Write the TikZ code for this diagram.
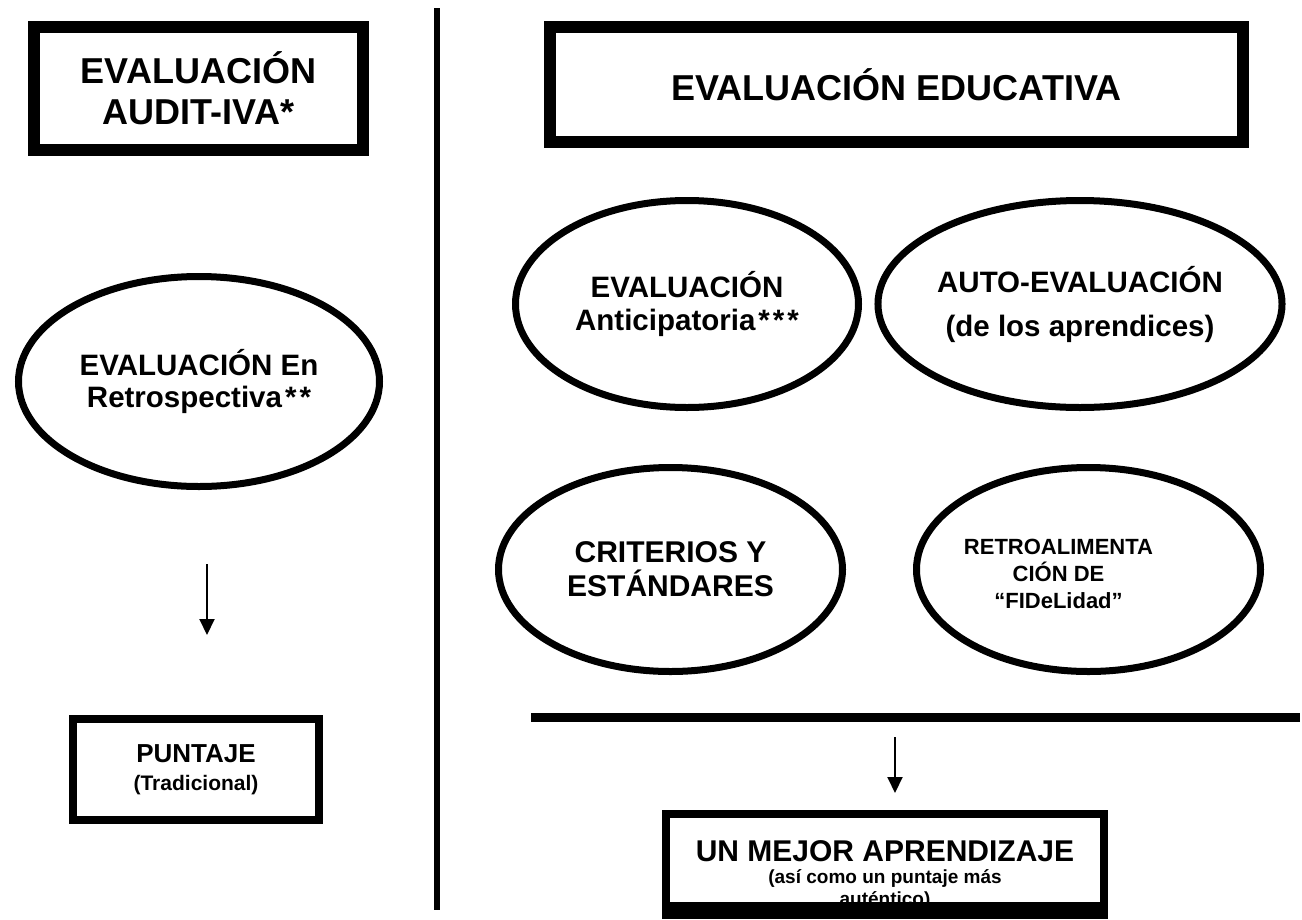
\documentclass[tikz,border=0pt]{standalone}
\usepackage{fontspec}
\setmainfont{Liberation Sans}
\usetikzlibrary{shapes.geometric,arrows.meta}
\tikzset{
thickbox/.style={draw, line width=12pt, rectangle, align=center, inner sep=0pt},
thinbox/.style={draw, line width=8pt, rectangle, align=center, inner sep=0pt},
oval/.style={draw, line width=7pt, ellipse, align=center, inner sep=0pt},
downarrow/.style={line width=2pt, -{Triangle[length=16pt,width=15pt]}}
}
\newcommand{\fsz}[2]{\bfseries\fontsize{#1}{#2}\selectfont}
\newcommand{\stars}[1]{\foreach \k in {1,...,#1}{\kern3pt*}}

\begin{document}
\begin{tikzpicture}[x=1pt, y=-1pt]
\useasboundingbox (0,0) rectangle (1302,919);
% left column
\node[thickbox, minimum width=329pt, minimum height=123pt, font=\fsz{36}{41}] (audit) at (198.5,88.5) {EVALUACIÓN\\AUDIT-IVA*};
\node[oval, minimum width=361pt, minimum height=210pt, font=\fsz{29.5}{32}] (retro) at (199,381.5) {EVALUACIÓN En\\Retrospectiva\stars{2}};
\coordinate (l1) at (207,564);
\coordinate (l2) at (207,635);
\draw[downarrow] (l1) -- (l2);
\node[thinbox, minimum width=246pt, minimum height=101pt, font=\fsz{21}{28}] (score) at (196,769.5) {\fontsize{26}{28}\selectfont PUNTAJE\\(Tradicional)};
% divider
\draw[line width=6pt] (437,8) -- (437,910);
% right column
\node[thickbox, minimum width=693pt, minimum height=115pt, font=\fsz{36}{41}] (educ) at (896.5,84.5) {EVALUACIÓN EDUCATIVA};
\node[oval, minimum width=343pt, minimum height=207pt, font=\fsz{29.5}{33}] (antic) at (687,304) {EVALUACIÓN\\Anticipatoria\stars{3}};
\node[oval, minimum width=343pt, minimum height=207pt, font=\fsz{29.5}{44}] (auto) at (1080,304) {AUTO-EVALUACIÓN\\(de los aprendices)};
\node[oval, minimum width=344pt, minimum height=204pt, font=\fsz{30}{34}] (crit) at (670.5,569.5) {CRITERIOS Y\\ESTÁNDARES};
\node[oval, minimum width=344pt, minimum height=204pt] (fide) at (1088.5,569.5) {};
\node[align=center, font=\fsz{22}{27}] (fidetext) at ([xshift=-30pt,yshift=-4pt]fide.center) {RETROALIMENTA\\CIÓN DE\\“FIDeLidad”};
\draw[line width=9pt] (531,717.5) -- (1300,717.5);
\coordinate (r1) at (895,737);
\coordinate (r2) at (895,793);
\draw[downarrow] (r1) -- (r2);
\node[thinbox, minimum width=438pt, minimum height=101pt] (learn) at (885,864.5) {};
\node[align=center, font=\fsz{19}{22}] (learntext) at (885,875) {\fontsize{30}{22}\selectfont UN MEJOR APRENDIZAJE\\(así como un puntaje más\\auténtico)};
\fill (662,902) rectangle (1108,919);
\end{tikzpicture}
\end{document}
